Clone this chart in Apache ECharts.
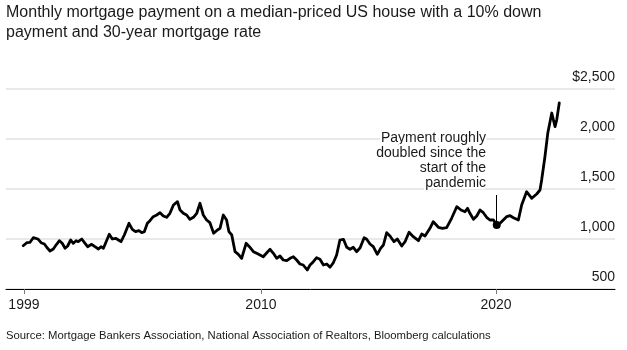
<!DOCTYPE html>
<html>
<head>
<meta charset="utf-8">
<script src="https://cdn.jsdelivr.net/npm/echarts@6/dist/echarts.min.js"></script>
<style>
    html, body { margin: 0; padding: 0; background: #fff; }
    #chart { width: 627px; height: 350px; }
</style>
</head>
<body>
<div id="chart"></div>
<script>
// monthly payment (decimal years, dollars)
const years = [
    1999.89, 2000.04, 2000.18, 2000.32, 2000.42, 2000.53, 2000.65, 2000.79, 2000.89, 2001.03,
    2001.17, 2001.31, 2001.43, 2001.55, 2001.67, 2001.78, 2001.91, 2002.02, 2002.14, 2002.23,
    2002.38, 2002.52, 2002.63, 2002.80, 2002.94, 2003.09, 2003.20, 2003.30, 2003.40, 2003.55,
    2003.68, 2003.82, 2003.94, 2004.05, 2004.19, 2004.39, 2004.53, 2004.67, 2004.81, 2004.93,
    2005.04, 2005.17, 2005.28, 2005.42, 2005.57, 2005.71, 2005.85, 2005.99, 2006.13, 2006.28,
    2006.45, 2006.56, 2006.70, 2006.84, 2006.98, 2007.13, 2007.27, 2007.41, 2007.55, 2007.69,
    2007.83, 2007.99, 2008.15, 2008.26, 2008.40, 2008.54, 2008.64, 2008.76, 2008.90, 2009.04,
    2009.18, 2009.37, 2009.51, 2009.68, 2009.82, 2009.96, 2010.10, 2010.25, 2010.39, 2010.53,
    2010.67, 2010.81, 2010.95, 2011.10, 2011.24, 2011.38, 2011.52, 2011.66, 2011.80, 2011.97,
    2012.09, 2012.23, 2012.37, 2012.51, 2012.66, 2012.80, 2012.94, 2013.08, 2013.22, 2013.36,
    2013.51, 2013.65, 2013.79, 2013.93, 2014.07, 2014.22, 2014.39, 2014.50, 2014.64, 2014.78,
    2014.95, 2015.09, 2015.21, 2015.35, 2015.49, 2015.66, 2015.80, 2015.99, 2016.13, 2016.30,
    2016.48, 2016.70, 2016.84, 2016.98, 2017.19, 2017.33, 2017.55, 2017.72, 2017.90, 2018.11,
    2018.33, 2018.51, 2018.68, 2018.79, 2018.89, 2019.04, 2019.18, 2019.32, 2019.46, 2019.60,
    2019.74, 2019.89, 2020.03, 2020.17, 2020.31, 2020.45, 2020.60, 2020.74, 2020.95, 2021.09,
    2021.30, 2021.52, 2021.73, 2021.87, 2021.94, 2022.08, 2022.20, 2022.37, 2022.51, 2022.58,
    2022.69
]
const payment = [
    933, 963, 967, 1013, 1007, 997, 963, 950, 917, 880,
    900, 947, 983, 957, 907, 930, 990, 957, 983, 973,
    1000, 957, 923, 947, 923, 900, 923, 907, 963, 1047,
    1000, 1007, 990, 973, 1040, 1157, 1097, 1073, 1083, 1063,
    1073, 1157, 1183, 1223, 1240, 1263, 1230, 1217, 1257, 1340,
    1373, 1290, 1257, 1240, 1197, 1217, 1257, 1357, 1240, 1190,
    1163, 1057, 1090, 1107, 1240, 1190, 1073, 1040, 873, 847,
    807, 957, 923, 873, 857, 840, 823, 863, 897, 857,
    807, 830, 790, 783, 807, 823, 790, 750, 740, 690,
    740, 773, 813, 797, 740, 750, 717, 763, 840, 990,
    997, 917, 897, 917, 873, 913, 1013, 997, 950, 923,
    847, 907, 940, 1063, 1030, 973, 1000, 930, 973, 1067,
    1023, 983, 1050, 1030, 1107, 1173, 1117, 1107, 1113, 1207,
    1323, 1290, 1273, 1307, 1257, 1197, 1230, 1290, 1263, 1217,
    1190, 1190, 1140, 1157, 1190, 1223, 1233, 1213, 1190, 1340,
    1473, 1407, 1450, 1490, 1590, 1823, 2057, 2260, 2123, 2190,
    2360
]

// x ticks: first one sits on the first month of data
const tickYears = [1999.92, 2010, 2020]
const tickLabels = ['1999', '2010', '2020']

// y ticks
const yTicks = [500, 1000, 1500, 2000, 2500]

// pandemic start marker
const pandemicYear = 2020.03
const pandemicValue = 1140
const annotationTop = 1440
const annotationText = ['Payment roughly', 'doubled since the', 'start of the', 'pandemic']

const FONT = '"Liberation Sans", Arial, sans-serif'

const seriesData = years.map((y, i) => [y, payment[i]])

const cs = echarts.init(document.getElementById('chart'), null, { renderer: 'canvas' })

const option = {
    animation: false,
    backgroundColor: '#fff',
    title: [
        {
            text: 'Monthly mortgage payment on a median-priced US house with a 10% down\npayment and 30-year mortgage rate',
            left: 6,
            top: 3,
            padding: 0,
            textStyle: {
                fontFamily: FONT,
                fontSize: 16,
                fontWeight: 'normal',
                color: '#1a1a1a',
                lineHeight: 20
            }
        },
        {
            text: 'Source: Mortgage Bankers Association, National Association of Realtors, Bloomberg calculations',
            left: 6,
            top: 329,
            padding: 0,
            textStyle: {
                fontFamily: FONT,
                fontSize: 11.3,
                fontWeight: 'normal',
                color: '#1a1a1a',
                lineHeight: 14
            }
        }
    ],
    grid: {
        left: 6,
        right: 12,
        top: 89,
        bottom: 61,
        containLabel: false
    },
    xAxis: {
        type: 'value',
        min: 1999.158,
        max: 2025.06,
        axisLine: { show: true, onZero: false, lineStyle: { color: '#000', width: 1 } },
        axisTick: {
            show: true,
            customValues: tickYears,
            length: 5,
            lineStyle: { color: '#777', width: 1 }
        },
        axisLabel: {
            customValues: tickYears,
            formatter: (v) => {
                const i = tickYears.findIndex(t => Math.abs(t - v) < 0.01)
                return i >= 0 ? tickLabels[i] : ''
            },
            margin: 9,
            fontFamily: FONT,
            fontSize: 14,
            color: '#1a1a1a'
        },
        splitLine: { show: false }
    },
    yAxis: {
        type: 'value',
        position: 'right',
        min: 500,
        max: 2500,
        interval: 500,
        axisLine: { show: false },
        axisTick: { show: false },
        axisLabel: {
            inside: true,
            margin: 0,
            verticalAlign: 'bottom',
            padding: [0, 0, 5, 0],
            fontFamily: FONT,
            fontSize: 14,
            color: '#1a1a1a',
            formatter: (v) => {
                const s = v.toLocaleString('en-US')
                return v === yTicks[yTicks.length - 1] ? '$' + s : s
            }
        },
        splitLine: { show: true, lineStyle: { color: '#e2e2e2', width: 1.5 } }
    },
    graphic: [
        {
            type: 'text',
            x: 486,
            y: 131,
            z: 100,
            style: {
                text: annotationText.join('\n'),
                textAlign: 'right',
                textVerticalAlign: 'top',
                font: '14px ' + FONT,
                lineHeight: 15,
                fill: '#1a1a1a',
                stroke: '#fff',
                lineWidth: 4
            }
        }
    ],
    series: [
        {
            type: 'line',
            data: seriesData,
            showSymbol: false,
            lineStyle: { color: '#000', width: 2.8, join: 'round', cap: 'round' },
            markPoint: {
                silent: true,
                symbol: 'circle',
                symbolSize: 8,
                itemStyle: { color: '#000' },
                label: { show: false },
                data: [{ coord: [pandemicYear, pandemicValue] }]
            },
            markLine: {
                silent: true,
                symbol: 'none',
                label: { show: false },
                lineStyle: { color: '#000', width: 1, type: 'solid' },
                data: [[{ coord: [pandemicYear, annotationTop] }, { coord: [pandemicYear, pandemicValue + 30] }]]
            }
        }
    ]
}

cs.setOption(option)
</script>
</body>
</html>
